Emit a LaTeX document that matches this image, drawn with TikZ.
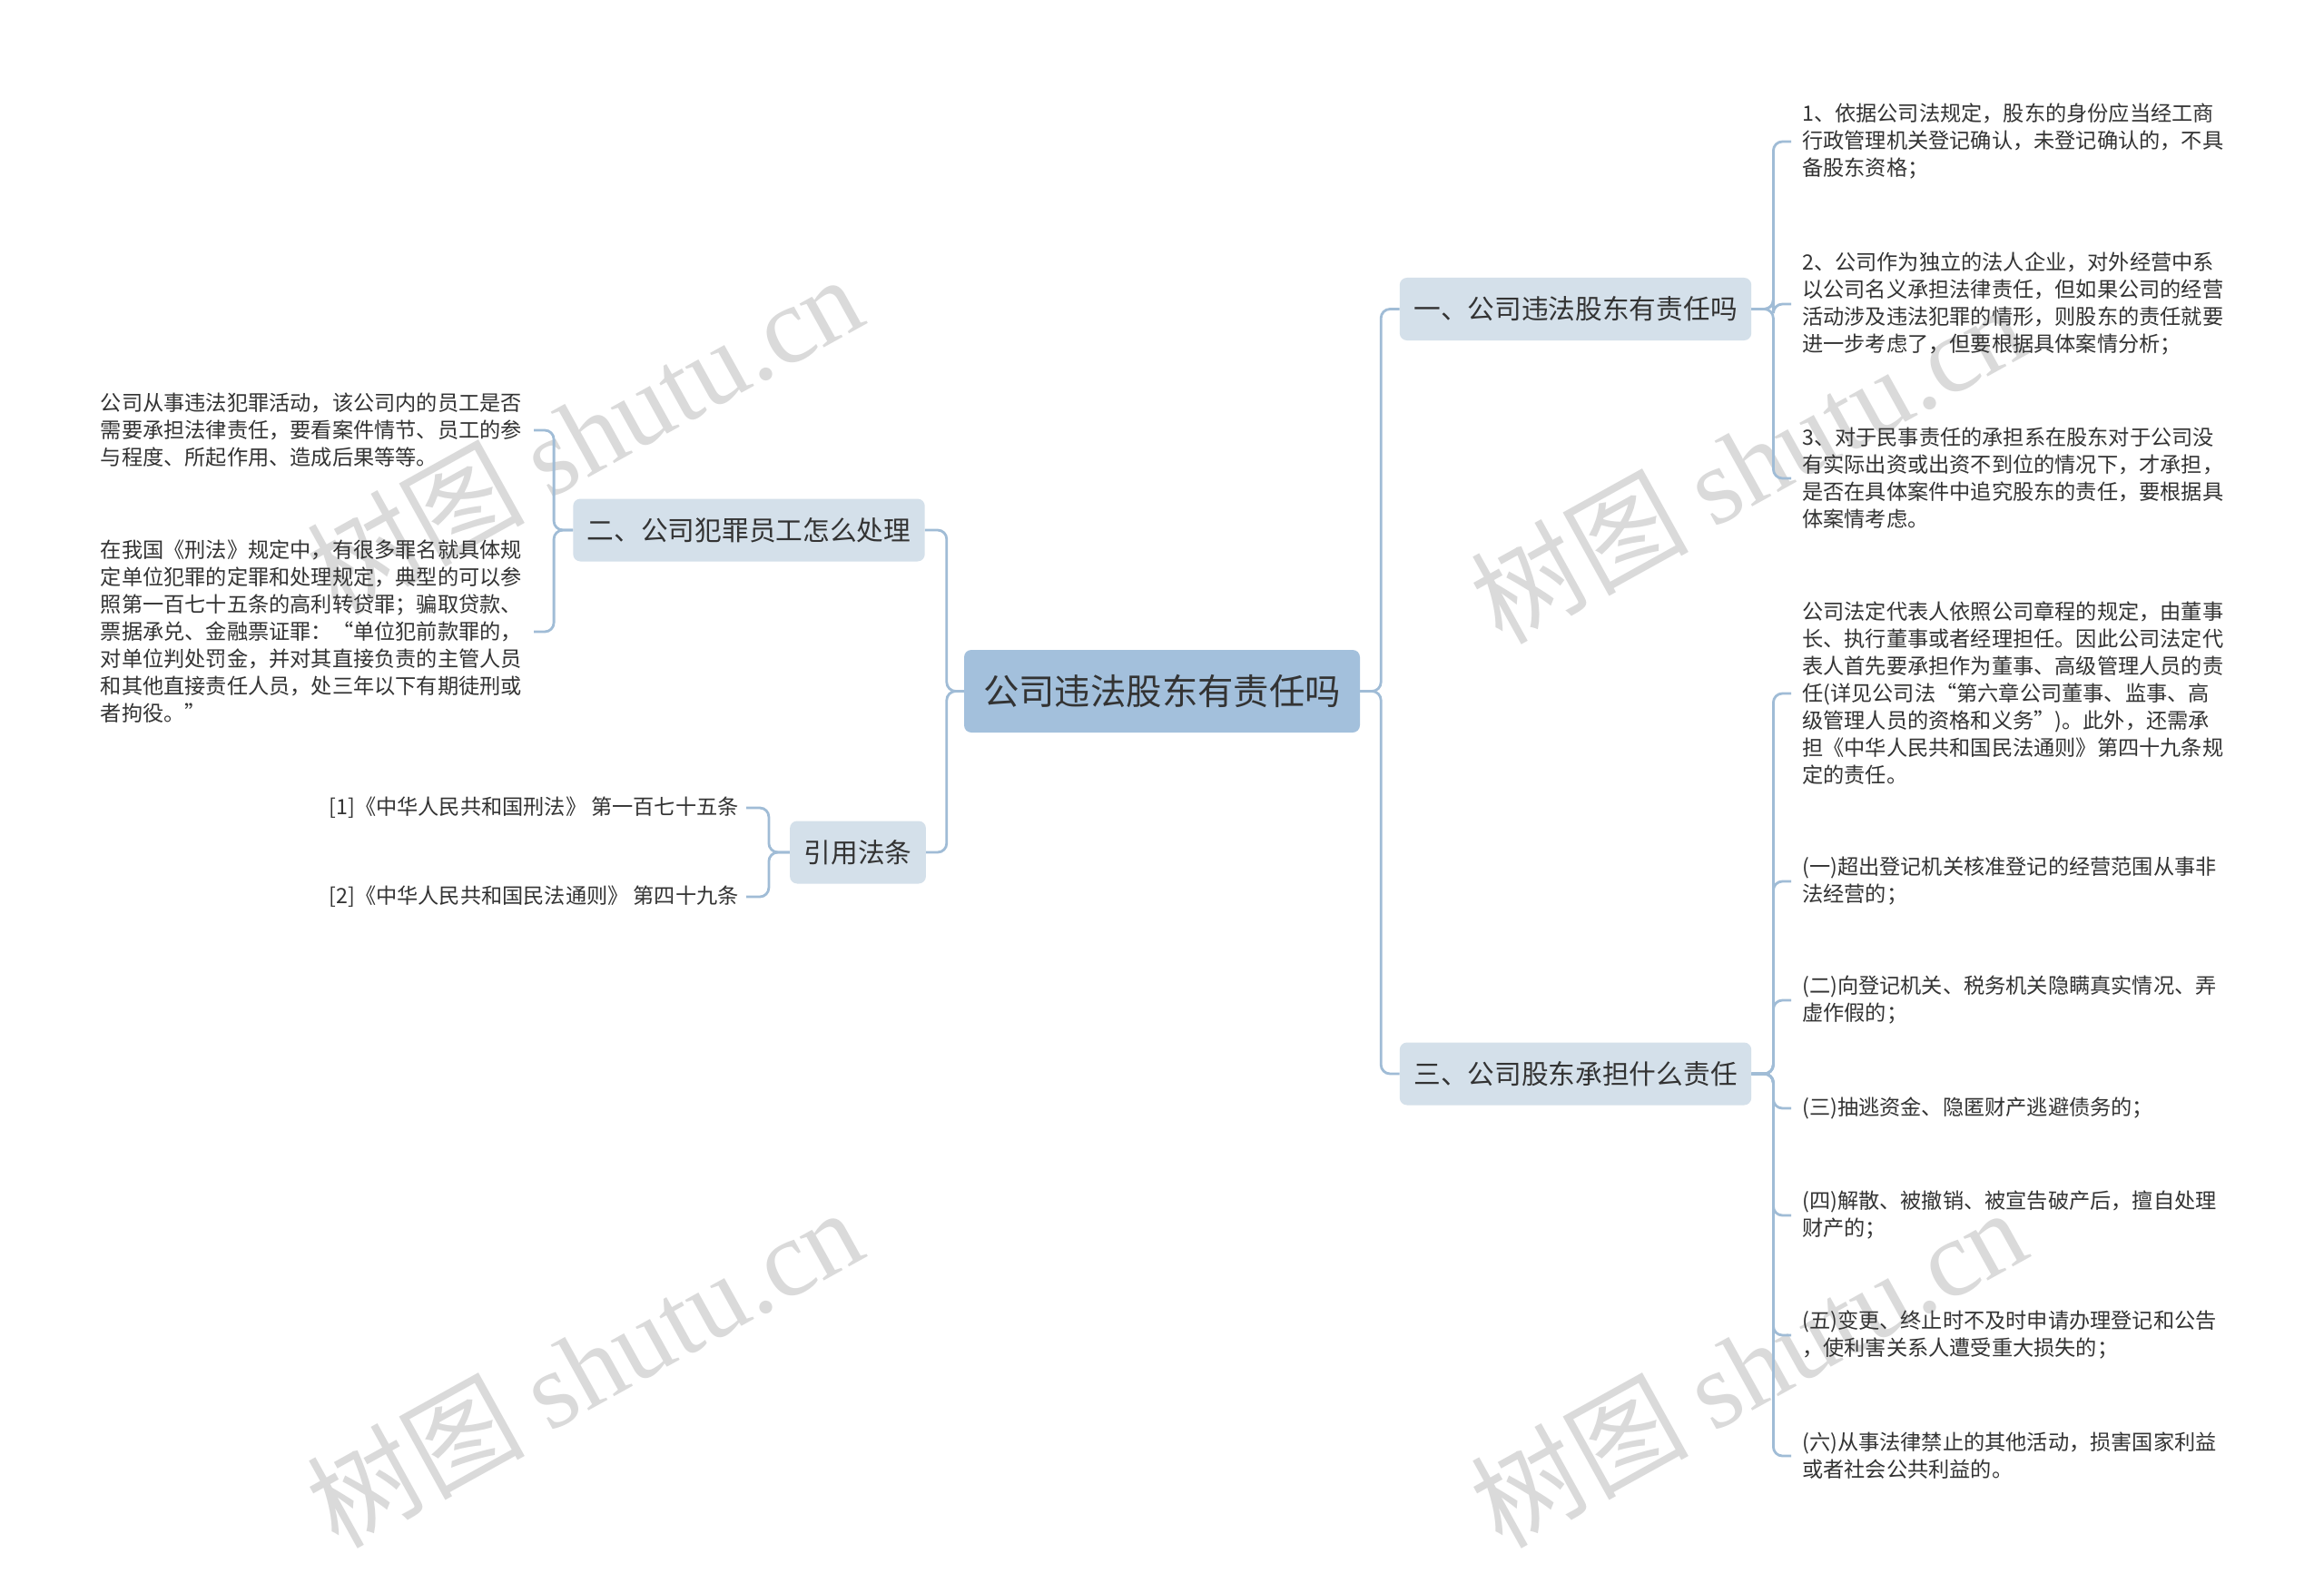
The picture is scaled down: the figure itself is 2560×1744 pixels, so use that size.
\documentclass[tikz,border=0pt]{standalone}
\usepackage{fontspec}
\setmainfont{Noto Sans CJK SC}
\newfontfamily\wmlat{Liberation Serif}
\definecolor{rootblue}{HTML}{A3C0DC}
\definecolor{lvblue}{HTML}{D4E0EA}
\definecolor{lineblue}{HTML}{A0BCD6}
\definecolor{txt}{HTML}{333333}
\definecolor{wmgray}{HTML}{DADADA}
\begin{document}
\begin{tikzpicture}[x=1pt,y=-1pt,
  conn/.style={draw=lineblue, line width=2.8pt, rounded corners=10pt},
  rootbox/.style={fill=rootblue, rounded corners=8pt, text=txt, font=\fontsize{39.4}{47}\selectfont, minimum width=436pt, minimum height=91pt, inner sep=0pt},
  lvbox/.style={fill=lvblue, rounded corners=8pt, text=txt, font=\fontsize{29.7}{36}\selectfont, minimum height=69pt, inner xsep=15.5pt, inner ysep=0pt},
  leafR/.style={anchor=west, align=left, text=txt, font=\fontsize{23.2}{30}\selectfont, inner xsep=12pt, inner ysep=0pt},
  leafL/.style={anchor=east, align=left, text=txt, font=\fontsize{23.2}{30}\selectfont, inner xsep=13pt, inner ysep=0pt},
  refleaf/.style={anchor=east, align=left, text=txt, font=\fontsize{23.2}{30}\selectfont, inner xsep=8pt, inner ysep=0pt},
  wm/.style={text=wmgray, rotate=29, anchor=base west, inner sep=0pt, font=\fontsize{120}{124}\selectfont}
]
\useasboundingbox (0,0) rectangle (2560,1744);
\fill[white] (0,0) rectangle (2560,1744);

% watermarks
\node[wm] (w1) at (372,680) {树图 {\wmlat shutu.cn}};
\node[wm] (w2) at (1654,712) {树图 {\wmlat shutu.cn}};
\node[wm] (w3) at (372,1708) {树图 {\wmlat shutu.cn}};
\node[wm] (w4) at (1654,1708) {树图 {\wmlat shutu.cn}};

% main nodes
\node[rootbox] (root) at (1280,761.5) {公司违法股东有责任吗};
\node[lvbox] (n1) at (1735.5,340.5) {一、公司违法股东有责任吗};
\node[lvbox] (n3) at (1735.5,1183) {三、公司股东承担什么责任};
\node[lvbox] (n2) at (825,584) {二、公司犯罪员工怎么处理};
\node[lvbox] (n4) at (945,939) {引用法条};

% right leaves of n1
\node[leafR] (r11) at (1973,156) {1、依据公司法规定，股东的身份应当经工商\\行政管理机关登记确认，未登记确认的，不具\\备股东资格；};
\node[leafR] (r12) at (1973,335) {2、公司作为独立的法人企业，对外经营中系\\以公司名义承担法律责任，但如果公司的经营\\活动涉及违法犯罪的情形，则股东的责任就要\\进一步考虑了，但要根据具体案情分析；};
\node[leafR] (r13) at (1973,527) {3、对于民事责任的承担系在股东对于公司没\\有实际出资或出资不到位的情况下，才承担，\\是否在具体案件中追究股东的责任，要根据具\\体案情考虑。};

% right leaves of n3
\node[leafR] (r31) at (1973,764) {公司法定代表人依照公司章程的规定，由董事\\长、执行董事或者经理担任。因此公司法定代\\表人首先要承担作为董事、高级管理人员的责\\任(详见公司法“第六章公司董事、监事、高\\级管理人员的资格和义务”)。此外，还需承\\担《中华人民共和国民法通则》第四十九条规\\定的责任。};
\node[leafR] (r32) at (1973,971) {(一)超出登记机关核准登记的经营范围从事非\\法经营的；};
\node[leafR] (r33) at (1973,1102) {(二)向登记机关、税务机关隐瞒真实情况、弄\\虚作假的；};
\node[leafR] (r34) at (1973,1221) {(三)抽逃资金、隐匿财产逃避债务的；};
\node[leafR] (r35) at (1973,1339) {(四)解散、被撤销、被宣告破产后，擅自处理\\财产的；};
\node[leafR] (r36) at (1973,1471) {(五)变更、终止时不及时申请办理登记和公告\\，使利害关系人遭受重大损失的；};
\node[leafR] (r37) at (1973,1604) {(六)从事法律禁止的其他活动，损害国家利益\\或者社会公共利益的。};

% left leaves of n2
\node[leafL] (l21) at (588,474) {公司从事违法犯罪活动，该公司内的员工是否\\需要承担法律责任，要看案件情节、员工的参\\与程度、所起作用、造成后果等等。};
\node[leafL] (l22) at (588,696) {在我国《刑法》规定中，有很多罪名就具体规\\定单位犯罪的定罪和处理规定，典型的可以参\\照第一百七十五条的高利转贷罪；骗取贷款、\\票据承兑、金融票证罪：“单位犯前款罪的，\\对单位判处罚金，并对其直接负责的主管人员\\和其他直接责任人员，处三年以下有期徒刑或\\者拘役。”};

% refs of n4
\node[refleaf] (f1) at (822,890) {[1]《中华人民共和国刑法》 第一百七十五条};
\node[refleaf] (f2) at (822,988) {[2]《中华人民共和国民法通则》 第四十九条};

% connectors
\draw[conn] (root.east) -- ++(23,0) |- (n1.west);
\draw[conn] (root.east) -- ++(23,0) |- (n3.west);
\draw[conn] (root.west) -- ++(-19,0) |- (n2.east);
\draw[conn] (root.west) -- ++(-19,0) |- (n4.east);

\foreach \c in {r11,r12,r13} \draw[conn] (n1.east) -- ++(24,0) |- (\c.west);
\foreach \c in {r31,r32,r33,r34,r35,r36,r37} \draw[conn] (n3.east) -- ++(24,0) |- (\c.west);
\foreach \c in {l21,l22} \draw[conn] (n2.west) -- ++(-21,0) |- (\c.east);
\foreach \c in {f1,f2} \draw[conn] (n4.west) -- ++(-23,0) |- (\c.east);
\end{tikzpicture}
\end{document}
